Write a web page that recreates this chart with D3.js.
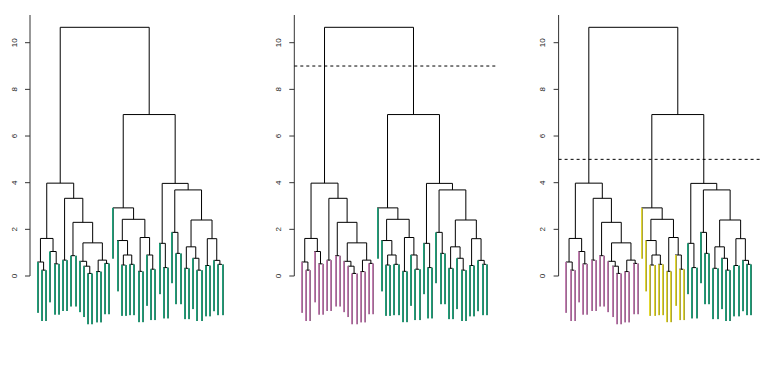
<!DOCTYPE html>
<html>
<head>
<meta charset="utf-8">
<script src="https://cdn.jsdelivr.net/npm/d3@7"></script>
<style>
body { margin: 0; background: #fff; }
text { font-family: "Liberation Sans", Arial, sans-serif; }
</style>
</head>
<body>
<svg id="chart" width="770" height="365"></svg>
<script>
// hclust style merge table: negative = leaf (by plot order), positive = earlier merge
var leafCount = 45;
var mergeA = [-13, -15, -25, -39, -2, -28, -36, -31, -12, -41, -21, -23, -44, -5, -17, -1, -11, -43, -7, 2, -38, -9, 11, -27, -34, -4, 7, -30, 17, -20, 10, 16, 3, -33, 22, 27, 30, -19, 19, 34, 32, 28, 38, 41];
var mergeB = [-14, -16, -26, -40, -3, -29, -37, -32, 1, -42, -22, -24, -45, -6, -18, 5, 9, 13, -8, 15, 4, -10, 12, 6, -35, 14, 21, 8, 20, 23, 18, 26, 24, 25, 29, 31, 33, 37, 35, 36, 39, 40, 42, 43];
var mergeHeight = [0.11, 0.19, 0.2, 0.25, 0.25, 0.29, 0.33, 0.36, 0.42, 0.45, 0.47, 0.5, 0.5, 0.52, 0.54, 0.6, 0.63, 0.67, 0.68, 0.68, 0.76, 0.87, 0.9, 0.9, 0.97, 1.05, 1.25, 1.4, 1.42, 1.52, 1.6, 1.61, 1.65, 1.87, 2.3, 2.4, 2.43, 2.92, 3.33, 3.69, 3.98, 3.97, 6.92, 10.66];
var tickValues = [0, 2, 4, 6, 8, 10];
var cutHeights = [null, 9, 5];
var panelColors = [
    ["#1b9e77"],
    ["#c47cb2", "#1b9e77"],
    ["#c47cb2", "#e2d72e", "#1b9e77"]
];
var hang = 2.18;

var svg = d3.select("#chart");
svg.append("rect").attr("width", 770).attr("height", 365).attr("fill", "#fff");

var panelOffset = 264.3;
var y = d3.scaleLinear().domain([0, 10]).range([276, 42.7]);
var root = mergeHeight.length;

function height(n) { return n < 0 ? 0 : mergeHeight[n - 1]; }
function leaves(n) { return n < 0 ? [-n] : leaves(mergeA[n - 1]).concat(leaves(mergeB[n - 1])); }

function clusterOf(cut) {
    var cl = {}, k = 0;
    function walk(n) {
        if (cut != null && n > 0 && height(n) > cut) {
            walk(mergeA[n - 1]);
            walk(mergeB[n - 1]);
        } else {
            leaves(n).forEach(function(l) { cl[l] = k; });
            k++;
        }
    }
    walk(root);
    return cl;
}

function drawPanel(p) {
    var off = p * panelOffset;
    var x = d3.scaleLinear().domain([1, leafCount]).range([37.3 + off, 222 + off]);
    var g = svg.append("g");
    var cl = clusterOf(cutHeights[p]);
    var cols = panelColors[p];

    function nodeX(n) {
        if (n < 0) return x(-n);
        return (nodeX(mergeA[n - 1]) + nodeX(mergeB[n - 1])) / 2;
    }

    // axis
    var ax = 30 + off;
    g.append("line").attr("x1", ax).attr("x2", ax).attr("y1", y(0)).attr("y2", 15)
        .attr("stroke", "#333").attr("stroke-width", 1);
    tickValues.forEach(function(t) {
        g.append("line").attr("x1", ax - 5).attr("x2", ax).attr("y1", y(t)).attr("y2", y(t))
            .attr("stroke", "#333").attr("stroke-width", 1);
        g.append("text").attr("transform", "translate(" + (ax - 13.5) + "," + y(t) + ") rotate(-90)")
            .attr("text-anchor", "middle").attr("font-size", "8px").attr("fill", "#222").text(t);
    });

    for (var m = 1; m <= mergeHeight.length; m++) {
        var a = mergeA[m - 1], b = mergeB[m - 1], h = mergeHeight[m - 1];
        var xa = nodeX(a), xb = nodeX(b);
        g.append("line").attr("x1", xa).attr("x2", xb).attr("y1", y(h)).attr("y2", y(h))
            .attr("stroke", "#000").attr("stroke-width", 1);
        [a, b].forEach(function(c) {
            var cx = nodeX(c);
            if (c > 0) {
                g.append("line").attr("x1", cx).attr("x2", cx).attr("y1", y(height(c))).attr("y2", y(h))
                    .attr("stroke", "#000").attr("stroke-width", 1);
            } else {
                var col = cols[cl[-c]];
                var dark = d3.interpolateRgb(col, "#555")(0.4);
                var px = Math.floor(cx);
                g.append("line").attr("x1", px + 0.5).attr("x2", px + 0.5).attr("y1", y(h - hang)).attr("y2", y(h))
                    .attr("stroke", col).attr("stroke-width", 1);
                g.append("line").attr("x1", px + 1.5).attr("x2", px + 1.5).attr("y1", y(h - hang)).attr("y2", y(h))
                    .attr("stroke", dark).attr("stroke-width", 1);
            }
        });
    }

    if (cutHeights[p] != null) {
        g.append("line").attr("x1", ax).attr("x2", ax + 201).attr("y1", y(cutHeights[p])).attr("y2", y(cutHeights[p]))
            .attr("stroke", "#000").attr("stroke-width", 1).attr("stroke-dasharray", "3,3");
    }
}

for (var p = 0; p < 3; p++) drawPanel(p);
</script>
</body>
</html>
